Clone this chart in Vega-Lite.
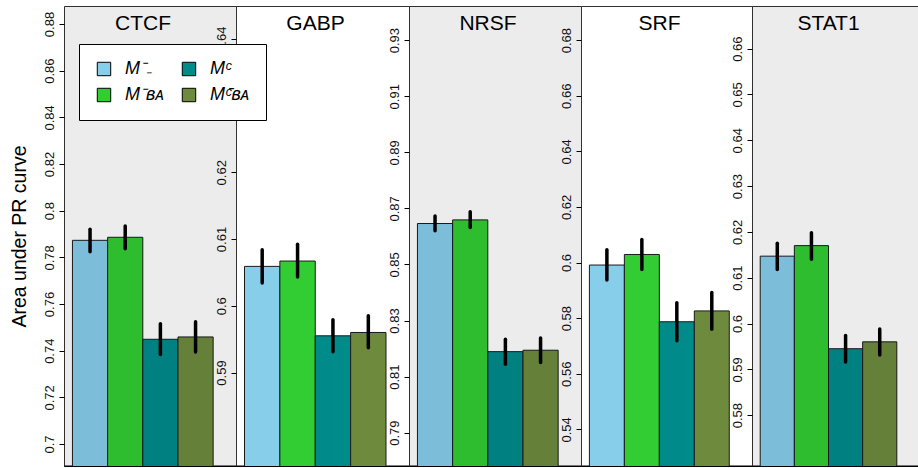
{
  "$schema": "https://vega.github.io/schema/vega-lite/v6.json",
  "autosize": {"type": "pad"},
  "padding": {"left": 8, "top": 5, "right": 0, "bottom": 0},
  "background": "white",
  "bounds": "flush",
  "spacing": 0,
  "config": {
    "font": "Liberation Sans",
    "view": {"stroke": "#333333", "strokeWidth": 1},
    "title": {"fontSize": 21, "fontWeight": "normal", "color": "black", "anchor": "middle", "frame": "group", "offset": -28, "dx": -7, "baseline": "alphabetic", "font": "Liberation Sans"},
    "axisY": {"domain": false, "ticks": true, "tickColor": "black", "tickSize": 5, "tickWidth": 1, "labelAngle": 270, "labelAlign": "center", "labelBaseline": "bottom", "labelFontSize": 13, "labelColor": "#111111", "labelPadding": 3, "grid": false, "labelOverlap": false, "labelFlush": false, "labelBound": false, "titleFontSize": 19.5, "titleFontWeight": "normal", "titleColor": "black", "titlePadding": 14, "titleFont": "Liberation Sans", "labelFont": "Liberation Sans"},
    "axisX": {"labels": false, "ticks": false, "title": null, "domain": true, "domainColor": "black", "domainWidth": 2, "grid": false},
    "legend": {"orient": "none", "legendX": 15, "legendY": 38, "title": null, "columns": 2, "symbolType": "square", "symbolSize": 180, "symbolStrokeColor": "black", "symbolStrokeWidth": 1, "symbolOpacity": 1, "labelFontSize": 18, "labelFontStyle": "italic", "labelColor": "black", "labelFont": "Liberation Sans", "strokeColor": "black", "fillColor": "white", "padding": 16, "rowPadding": 8, "columnPadding": 15, "labelOffset": 12}
  },
  "data": {"values": [
    {"tf": "CTCF", "model": "M\u207b\u208b", "auc": 0.7873, "lo": 0.7824, "hi": 0.7920},
    {"tf": "CTCF", "model": "M\u207b\u0299\u1d00", "auc": 0.7886, "lo": 0.7837, "hi": 0.7934},
    {"tf": "CTCF", "model": "M\u1d9c", "auc": 0.7449, "lo": 0.7384, "hi": 0.7516},
    {"tf": "CTCF", "model": "M\u1d9c\u0304\u0299\u1d00", "auc": 0.7459, "lo": 0.7394, "hi": 0.7524},
    {"tf": "GABP", "model": "M\u207b\u208b", "auc": 0.6059, "lo": 0.6034, "hi": 0.6084},
    {"tf": "GABP", "model": "M\u207b\u0299\u1d00", "auc": 0.6067, "lo": 0.6043, "hi": 0.6092},
    {"tf": "GABP", "model": "M\u1d9c", "auc": 0.5955, "lo": 0.5931, "hi": 0.5979},
    {"tf": "GABP", "model": "M\u1d9c\u0304\u0299\u1d00", "auc": 0.5960, "lo": 0.5937, "hi": 0.5985},
    {"tf": "NRSF", "model": "M\u207b\u208b", "auc": 0.8646, "lo": 0.8620, "hi": 0.8673},
    {"tf": "NRSF", "model": "M\u207b\u0299\u1d00", "auc": 0.8659, "lo": 0.8632, "hi": 0.8688},
    {"tf": "NRSF", "model": "M\u1d9c", "auc": 0.8189, "lo": 0.8144, "hi": 0.8233},
    {"tf": "NRSF", "model": "M\u1d9c\u0304\u0299\u1d00", "auc": 0.8194, "lo": 0.8150, "hi": 0.8238},
    {"tf": "SRF", "model": "M\u207b\u208b", "auc": 0.5991, "lo": 0.5937, "hi": 0.6046},
    {"tf": "SRF", "model": "M\u207b\u0299\u1d00", "auc": 0.6029, "lo": 0.5975, "hi": 0.6083},
    {"tf": "SRF", "model": "M\u1d9c", "auc": 0.5787, "lo": 0.5719, "hi": 0.5855},
    {"tf": "SRF", "model": "M\u1d9c\u0304\u0299\u1d00", "auc": 0.5826, "lo": 0.5760, "hi": 0.5892},
    {"tf": "STAT1", "model": "M\u207b\u208b", "auc": 0.6147, "lo": 0.6118, "hi": 0.6175},
    {"tf": "STAT1", "model": "M\u207b\u0299\u1d00", "auc": 0.6170, "lo": 0.6140, "hi": 0.6198},
    {"tf": "STAT1", "model": "M\u1d9c", "auc": 0.5945, "lo": 0.5916, "hi": 0.5974},
    {"tf": "STAT1", "model": "M\u1d9c\u0304\u0299\u1d00", "auc": 0.5960, "lo": 0.5931, "hi": 0.5988}
  ]},
  "hconcat": [
    {
      "width": 172, "height": 460,
      "title": {"text": "CTCF"},
      "transform": [{"filter": "datum.tf === 'CTCF'"}],
      "encoding": {"x": {"field": "model", "type": "nominal", "sort": ["M\u207b\u208b", "M\u207b\u0299\u1d00", "M\u1d9c", "M\u1d9c\u0304\u0299\u1d00"], "scale": {"paddingInner": 0, "paddingOuter": 0.445, "align": 0.27}}},
      "layer": [
        {"mark": {"type": "bar", "stroke": "#1a1a1a", "strokeWidth": 1, "clip": true},
         "encoding": {
           "y": {"field": "auc", "type": "quantitative", "title": "Area under PR curve", "scale": {"domain": [0.6906, 0.8877], "zero": false, "nice": false}, "axis": {"values": [0.7, 0.71, 0.72, 0.73, 0.74, 0.75, 0.76, 0.77, 0.78, 0.79, 0.8, 0.81, 0.82, 0.83, 0.84, 0.85, 0.86, 0.87, 0.88], "format": ".2~f", "labelExpr": "round(datum.value*100) % 2 == 0 ? datum.label : ''"}},
           "color": {"field": "model", "type": "nominal", "scale": {"domain": ["M\u207b\u208b", "M\u207b\u0299\u1d00", "M\u1d9c", "M\u1d9c\u0304\u0299\u1d00"], "range": ["#87CEEB", "#32CD32", "#008B8B", "#6E8B3D"]}}
         }},
        {"mark": {"type": "rule", "strokeWidth": 3.5, "color": "black", "strokeCap": "round"},
         "encoding": {"y": {"field": "lo", "type": "quantitative", "title": "Area under PR curve"}, "y2": {"field": "hi"}}},
        {"data": {"values": [{}]}, "mark": {"type": "rect", "color": "black", "opacity": 0.075},
         "encoding": {"x": {"value": 0}, "x2": {"value": "width"}, "y": {"value": 0}, "y2": {"value": "height"}}}
      ]
    },
    {
      "width": 173, "height": 460,
      "title": {"text": "GABP"},
      "transform": [{"filter": "datum.tf === 'GABP'"}],
      "encoding": {"x": {"field": "model", "type": "nominal", "sort": ["M\u207b\u208b", "M\u207b\u0299\u1d00", "M\u1d9c", "M\u1d9c\u0304\u0299\u1d00"], "scale": {"paddingInner": 0, "paddingOuter": 0.445, "align": 0.27}}},
      "layer": [
        {"mark": {"type": "bar", "stroke": "#1a1a1a", "strokeWidth": 1, "clip": true},
         "encoding": {
           "y": {"field": "auc", "type": "quantitative", "title": null, "scale": {"domain": [0.576, 0.6449], "zero": false, "nice": false}, "axis": {"values": [0.59, 0.6, 0.61, 0.62, 0.63, 0.64], "format": ".2~f"}},
           "color": {"field": "model", "type": "nominal", "scale": {"domain": ["M\u207b\u208b", "M\u207b\u0299\u1d00", "M\u1d9c", "M\u1d9c\u0304\u0299\u1d00"], "range": ["#87CEEB", "#32CD32", "#008B8B", "#6E8B3D"]}}
         }},
        {"mark": {"type": "rule", "strokeWidth": 3.5, "color": "black", "strokeCap": "round"},
         "encoding": {"y": {"field": "lo", "type": "quantitative", "title": null}, "y2": {"field": "hi"}}}
      ]
    },
    {
      "width": 172, "height": 460,
      "title": {"text": "NRSF"},
      "transform": [{"filter": "datum.tf === 'NRSF'"}],
      "encoding": {"x": {"field": "model", "type": "nominal", "sort": ["M\u207b\u208b", "M\u207b\u0299\u1d00", "M\u1d9c", "M\u1d9c\u0304\u0299\u1d00"], "scale": {"paddingInner": 0, "paddingOuter": 0.445, "align": 0.27}}},
      "layer": [
        {"mark": {"type": "bar", "stroke": "#1a1a1a", "strokeWidth": 1, "clip": true},
         "encoding": {
           "y": {"field": "auc", "type": "quantitative", "title": null, "scale": {"domain": [0.7781, 0.9422], "zero": false, "nice": false}, "axis": {"values": [0.79, 0.8, 0.81, 0.82, 0.83, 0.84, 0.85, 0.86, 0.87, 0.88, 0.89, 0.9, 0.91, 0.92, 0.93], "format": ".2~f", "labelExpr": "round(datum.value*100) % 2 == 1 ? datum.label : ''"}},
           "color": {"field": "model", "type": "nominal", "scale": {"domain": ["M\u207b\u208b", "M\u207b\u0299\u1d00", "M\u1d9c", "M\u1d9c\u0304\u0299\u1d00"], "range": ["#87CEEB", "#32CD32", "#008B8B", "#6E8B3D"]}}
         }},
        {"mark": {"type": "rule", "strokeWidth": 3.5, "color": "black", "strokeCap": "round"},
         "encoding": {"y": {"field": "lo", "type": "quantitative", "title": null}, "y2": {"field": "hi"}}},
        {"data": {"values": [{}]}, "mark": {"type": "rect", "color": "black", "opacity": 0.075},
         "encoding": {"x": {"value": 0}, "x2": {"value": "width"}, "y": {"value": 0}, "y2": {"value": "height"}}}
      ]
    },
    {
      "width": 171, "height": 460,
      "title": {"text": "SRF"},
      "transform": [{"filter": "datum.tf === 'SRF'"}],
      "encoding": {"x": {"field": "model", "type": "nominal", "sort": ["M\u207b\u208b", "M\u207b\u0299\u1d00", "M\u1d9c", "M\u1d9c\u0304\u0299\u1d00"], "scale": {"paddingInner": 0, "paddingOuter": 0.445, "align": 0.27}}},
      "layer": [
        {"mark": {"type": "bar", "stroke": "#1a1a1a", "strokeWidth": 1, "clip": true},
         "encoding": {
           "y": {"field": "auc", "type": "quantitative", "title": null, "scale": {"domain": [0.5268, 0.6923], "zero": false, "nice": false}, "axis": {"values": [0.54, 0.55, 0.56, 0.57, 0.58, 0.59, 0.6, 0.61, 0.62, 0.63, 0.64, 0.65, 0.66, 0.67, 0.68, 0.69], "format": ".2~f", "labelExpr": "round(datum.value*100) % 2 == 0 ? datum.label : ''"}},
           "color": {"field": "model", "type": "nominal", "scale": {"domain": ["M\u207b\u208b", "M\u207b\u0299\u1d00", "M\u1d9c", "M\u1d9c\u0304\u0299\u1d00"], "range": ["#87CEEB", "#32CD32", "#008B8B", "#6E8B3D"]}}
         }},
        {"mark": {"type": "rule", "strokeWidth": 3.5, "color": "black", "strokeCap": "round"},
         "encoding": {"y": {"field": "lo", "type": "quantitative", "title": null}, "y2": {"field": "hi"}}}
      ]
    },
    {
      "width": 167, "height": 460,
      "title": {"text": "STAT1"},
      "transform": [{"filter": "datum.tf === 'STAT1'"}],
      "encoding": {"x": {"field": "model", "type": "nominal", "sort": ["M\u207b\u208b", "M\u207b\u0299\u1d00", "M\u1d9c", "M\u1d9c\u0304\u0299\u1d00"], "scale": {"paddingInner": 0, "paddingOuter": 0.445, "align": 0.27}}},
      "layer": [
        {"mark": {"type": "bar", "stroke": "#1a1a1a", "strokeWidth": 1, "clip": true},
         "encoding": {
           "y": {"field": "auc", "type": "quantitative", "title": null, "scale": {"domain": [0.5689, 0.6693], "zero": false, "nice": false}, "axis": {"values": [0.58, 0.59, 0.6, 0.61, 0.62, 0.63, 0.64, 0.65, 0.66], "format": ".2~f"}},
           "color": {"field": "model", "type": "nominal", "scale": {"domain": ["M\u207b\u208b", "M\u207b\u0299\u1d00", "M\u1d9c", "M\u1d9c\u0304\u0299\u1d00"], "range": ["#87CEEB", "#32CD32", "#008B8B", "#6E8B3D"]}}
         }},
        {"mark": {"type": "rule", "strokeWidth": 3.5, "color": "black", "strokeCap": "round"},
         "encoding": {"y": {"field": "lo", "type": "quantitative", "title": null}, "y2": {"field": "hi"}}},
        {"data": {"values": [{}]}, "mark": {"type": "rect", "color": "black", "opacity": 0.075},
         "encoding": {"x": {"value": 0}, "x2": {"value": "width"}, "y": {"value": 0}, "y2": {"value": "height"}}}
      ]
    }
  ]
}
